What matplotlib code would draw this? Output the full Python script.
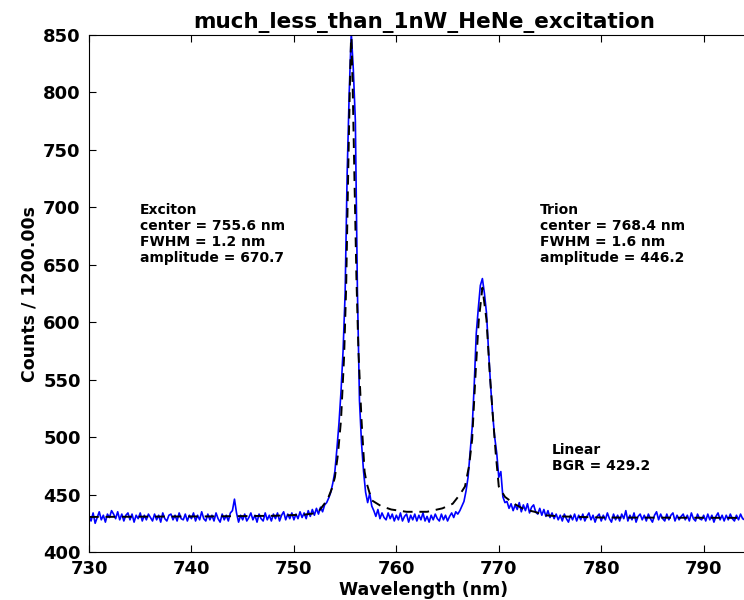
import numpy as np
import matplotlib
matplotlib.use("Agg")
import matplotlib.pyplot as plt

# ---- data ----
wl_start = 730.0
wl_step = 0.2

counts = [
    431, 427, 434, 425, 430, 435, 428, 432, 426, 433,   # 730.0
    430, 436, 433, 429, 435, 428, 433, 427, 432, 434,   # 732.0
    428, 433, 426, 432, 429, 434, 427, 432, 428, 433,   # 734.0
    430, 427, 433, 428, 432, 426, 434, 429, 427, 432,   # 736.0
    433, 428, 432, 427, 434, 429, 428, 433, 427, 432,   # 738.0
    429, 434, 427, 432, 428, 435, 429, 427, 433, 428,   # 740.0
    432, 427, 434, 429, 426, 433, 428, 432, 427, 434,   # 742.0
    436, 446, 434, 426, 432, 428, 433, 427, 430, 434,   # 744.0
    428, 432, 426, 433, 429, 427, 434, 428, 432, 427,   # 746.0
    433, 429, 434, 427, 432, 435, 428, 433, 429, 434,   # 748.0
    428, 433, 429, 435, 430, 434, 429, 436, 431, 437,   # 750.0
    432, 438, 433, 439, 435, 441, 443, 447, 452, 460,   # 752.0
    470, 490, 512, 540, 575, 625, 730, 800, 852, 820,   # 754.0
    775, 628, 532, 495, 470, 452, 443, 451, 440, 436,   # 756.0
    431, 437, 429, 434, 430, 428, 434, 429, 433, 427,   # 758.0
    432, 428, 434, 427, 431, 433, 426, 432, 428, 433,   # 760.0
    427, 432, 428, 434, 427, 431, 426, 432, 428, 433,   # 762.0
    429, 427, 433, 428, 432, 427, 431, 434, 430, 435,   # 764.0
    433, 436, 440, 444, 453, 465, 486, 508, 545, 590,   # 766.0
    612, 632, 638, 625, 608, 575, 545, 520, 500, 486,   # 768.0
    465, 470, 448, 443, 444, 438, 442, 436, 441, 437,   # 770.0
    443, 435, 441, 436, 442, 434, 439, 441, 435, 433,   # 772.0
    438, 432, 437, 431, 436, 430, 434, 429, 433, 428,   # 774.0
    432, 427, 433, 429, 426, 432, 428, 433, 427, 432,   # 776.0
    428, 433, 427, 431, 434, 428, 432, 426, 431, 433,   # 778.0
    427, 432, 428, 434, 429, 426, 433, 428, 432, 427,   # 780.0
    433, 429, 436, 427, 432, 428, 434, 426, 431, 433,   # 782.0
    428, 432, 427, 433, 429, 426, 432, 435, 428, 433,   # 784.0
    429, 427, 433, 428, 432, 434, 427, 432, 428, 431,   # 786.0
    433, 428, 432, 427, 434, 429, 427, 433, 429, 428,   # 788.0
    432, 427, 433, 428, 432, 426, 431, 434, 428, 432,   # 790.0
    427, 432, 428, 433, 429, 427, 432, 428, 433, 429,   # 792.0
    428, 432, 427, 431, 433, 428, 432, 427, 431, 433,   # 794.0
]

fit_x = [730, 736, 742, 748, 751, 752.3, 752.9, 753.3, 753.7, 754.0, 754.3,
         754.6, 754.9, 755.1, 755.3, 755.45, 755.6, 755.75, 755.9, 756.1,
         756.3, 756.6, 756.9, 757.1, 757.6, 758.5, 759.5, 761, 763, 764.5,
         765.5, 766.2, 766.7, 767.1, 767.4, 767.75, 768.05, 768.4, 768.8,
         769.1, 769.45, 769.7, 770.0, 770.6, 771.5, 772.5, 773.5, 774.5,
         776, 780, 790, 800]
fit_y = [430.5, 430.8, 431, 431.5, 432.5, 434, 441, 446, 455, 465, 485,
         515, 570, 630, 730, 800, 855, 800, 730, 640,
         575, 515, 470, 460, 445, 440, 437, 435, 435, 438,
         442, 450, 457, 475, 498, 558, 602, 630, 602,
         558, 515, 486, 457, 448, 442, 437, 435, 432,
         431, 430, 429.8, 429.5]

x_ticks = [730, 740, 750, 760, 770, 780, 790]
y_ticks = [400, 450, 500, 550, 600, 650, 700, 750, 800, 850]

title = "much_less_than_1nW_HeNe_excitation"
xlabel = "Wavelength (nm)"
ylabel = "Counts / 1200.00s"
exciton_txt = "Exciton\ncenter = 755.6 nm\nFWHM = 1.2 nm\namplitude = 670.7"
trion_txt = "Trion\ncenter = 768.4 nm\nFWHM = 1.6 nm\namplitude = 446.2"
bgr_txt = "Linear\nBGR = 429.2"

wavelength = wl_start + wl_step * np.arange(len(counts))

fig = plt.figure(figsize=(7.44, 6.0), dpi=100)
ax = fig.add_axes([89 / 744, 48 / 600, (759 - 89) / 744, (552 - 35) / 600])

ax.plot(wavelength, counts, color="#0000ff", lw=1.2)
ax.plot(fit_x, fit_y, color="black", lw=1.4, ls=(0, (5, 3.5)))

ax.set_xlim(730, 795.4)
ax.set_ylim(400, 850)
ax.set_xticks(x_ticks)
ax.set_yticks(y_ticks)
ax.tick_params(direction="in", top=True, right=True, length=5, width=0.8,
               labelsize=13, pad=6)
for lab in ax.get_xticklabels() + ax.get_yticklabels():
    lab.set_fontweight("bold")

ax.set_title(title, fontsize=15.5, fontweight="bold", pad=5)
ax.set_xlabel(xlabel, fontsize=12.5, fontweight="bold", labelpad=2)
ax.set_ylabel(ylabel, fontsize=12.5, fontweight="bold", labelpad=3)

ax.text(735.0, 704, exciton_txt, fontsize=10, fontweight="bold", va="top", ha="left")
ax.text(774.0, 704, trion_txt, fontsize=10, fontweight="bold", va="top", ha="left")
ax.text(775.2, 495, bgr_txt, fontsize=10, fontweight="bold", va="top", ha="left")

fig.savefig("out.png", dpi=100)
